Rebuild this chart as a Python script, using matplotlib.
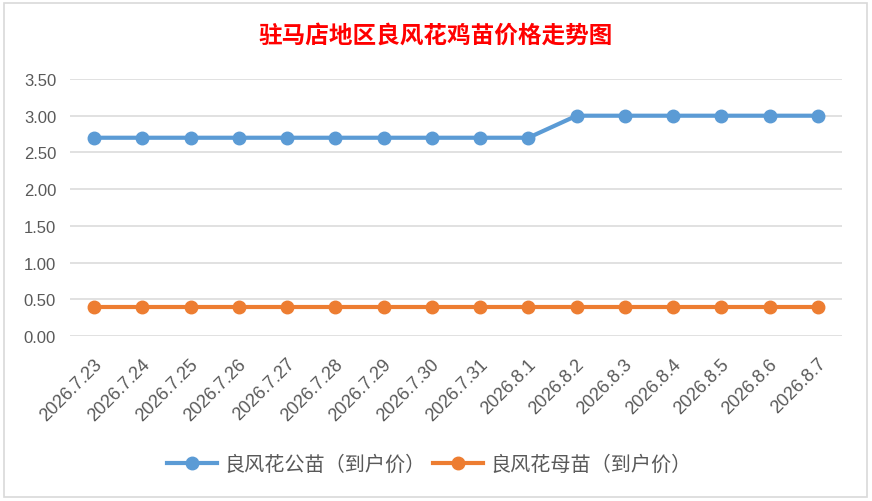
import matplotlib
matplotlib.use("Agg")
import matplotlib.pyplot as plt
import matplotlib.transforms as mtransforms
from matplotlib.patches import Rectangle

dates = ["2026.7.23", "2026.7.24", "2026.7.25", "2026.7.26", "2026.7.27", "2026.7.28",
         "2026.7.29", "2026.7.30", "2026.7.31", "2026.8.1", "2026.8.2", "2026.8.3",
         "2026.8.4", "2026.8.5", "2026.8.6", "2026.8.7"]
male_price = [2.7, 2.7, 2.7, 2.7, 2.7, 2.7, 2.7, 2.7, 2.7, 2.7, 3.0, 3.0, 3.0, 3.0, 3.0, 3.0]
female_price = [0.4] * 16
male_label = "良风花公苗（到户价）"
female_label = "良风花母苗（到户价）"
title = "驻马店地区良风花鸡苗价格走势图"
yticks = [0, 0.5, 1.0, 1.5, 2.0, 2.5, 3.0, 3.5]

fonts = ["Liberation Sans", "Noto Sans CJK SC", "DejaVu Sans"]
plt.rcParams["font.family"] = fonts
grey_text = "#595959"

W, H = 872, 502
fig = plt.figure(figsize=(W / 100, H / 100), dpi=100)

# chart frame
fig.patches.append(Rectangle((4 / W, 4 / H), 863 / W, 494 / H, transform=fig.transFigure,
                             fill=False, edgecolor="#D9D9D9", linewidth=1.2))

ax = fig.add_axes([70 / W, (H - 337) / H, 772 / W, 257 / H])
x = list(range(len(dates)))
ax.plot(x, male_price, color="#5B9BD5", linewidth=3, marker="o", markersize=9, label=male_label)
ax.plot(x, female_price, color="#ED7D31", linewidth=3, marker="o", markersize=9, label=female_label)

ax.set_xlim(-0.5, len(dates) - 0.5)
ax.set_ylim(0, 3.5)
ax.set_yticks(yticks)
ax.set_yticklabels([f"{v:.2f}" for v in yticks], fontsize=12, color=grey_text)
ax.grid(axis="y", color="#D9D9D9", linewidth=1.1)
ax.set_axisbelow(True)
for s in ax.spines.values():
    s.set_visible(False)
ax.tick_params(axis="both", length=0)
ax.tick_params(axis="y", pad=10)

ax.set_xticks(x)
ax.set_xticklabels(dates, rotation=45, ha="right", va="center", rotation_mode="anchor",
                   fontsize=13, color=grey_text)
offset = mtransforms.ScaledTranslation(5 / 100, -20 / 100, fig.dpi_scale_trans)
for lbl in ax.get_xticklabels():
    lbl.set_transform(lbl.get_transform() + offset)

fig.text(0.5, (H - 36) / H, title, ha="center", va="center", color="red",
         fontsize=17, fontweight="bold", family=["Noto Sans CJK SC", "DejaVu Sans"])

leg = fig.legend(loc="center", bbox_to_anchor=(0.492, (H - 465) / H), ncol=2, frameon=False,
                 fontsize=14.5, handlelength=2.5, columnspacing=0.35, handletextpad=0.35)
for t in leg.get_texts():
    t.set_color(grey_text)

fig.savefig("out.png", dpi=100)
